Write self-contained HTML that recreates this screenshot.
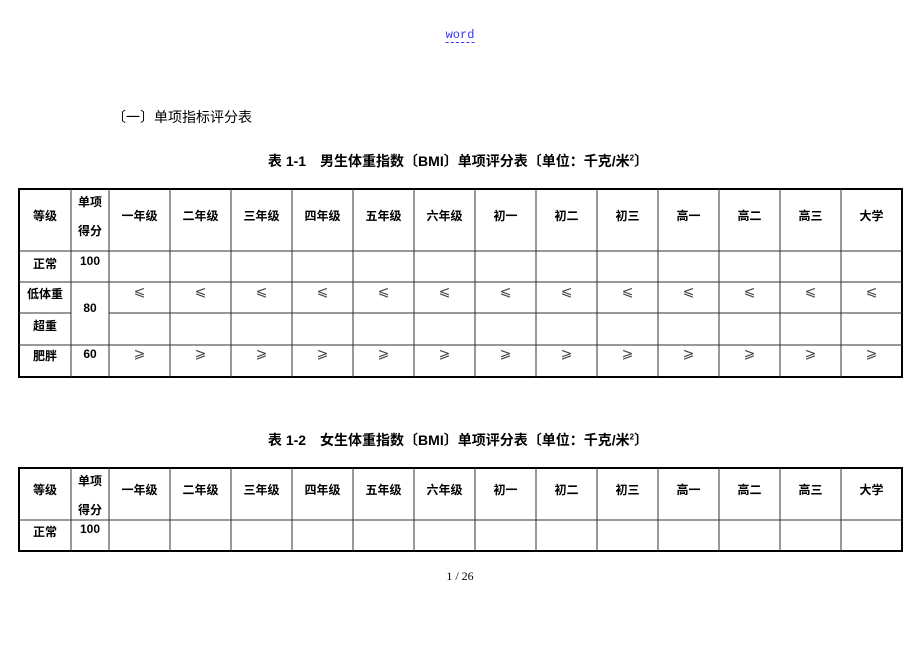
<!DOCTYPE html>
<html><head><meta charset="utf-8"><style>
body{margin:0;width:920px;height:651px;background:#fff;position:relative;overflow:hidden;font-family:"Liberation Sans","Noto Sans CJK SC",sans-serif;color:#000}
.t{position:absolute;white-space:nowrap;font-size:12px;transform:translateX(-50%)}
.b{font-weight:bold}
</style></head><body>
<div class="t" style="left:460px;top:29px;font-family:'Liberation Mono',monospace;font-size:12px;color:#33f;border-bottom:1px dashed #33f;line-height:13px">word</div>
<div style="position:absolute;left:112px;top:107px;font-size:14px">〔一〕单项指标评分表</div>
<div class="t b" style="left:458px;top:151px;font-size:14px">表 1-1　男生体重指数〔BMI〕单项评分表〔单位：千克/米<sup style="font-size:8px">2</sup>〕</div>
<div class="t b" style="left:458px;top:430px;font-size:14px">表 1-2　女生体重指数〔BMI〕单项评分表〔单位：千克/米<sup style="font-size:8px">2</sup>〕</div>
<div class="t" style="left:460px;top:569px;font-family:'Liberation Serif',serif;font-size:12px">1 / 26</div>
<svg width="920" height="651" style="position:absolute;left:0;top:0" id="s"></svg>
<div id="txt"></div>
<script>
var xs=[19,71,109,170,231,292,353,414,475,536,597,658,719,780,841,902];
var s='',t='';
function tbl(y0,rows){
 var ys=[y0].concat(rows);var bot=ys[ys.length-1];
 s+='<rect x="19" y="'+y0+'" width="883" height="'+(bot-y0)+'" fill="none" stroke="#000" stroke-width="2"/>';
 for(var i=1;i<xs.length-1;i++)s+='<line x1="'+xs[i]+'" y1="'+y0+'" x2="'+xs[i]+'" y2="'+bot+'" stroke="#333" stroke-width="1"/>';
 for(var j=1;j<ys.length-1;j++){s+='<line x1="19" y1="'+ys[j]+'" x2="'+(ys[j]==313?71:19)+'" y2="'+ys[j]+'" stroke="#333"/>';s+='<line x1="'+(ys[j]==313?109:19)+'" y1="'+ys[j]+'" x2="902" y2="'+ys[j]+'" stroke="#333"/>';}
}
function tx(x,y,str,bold){t+='<div class="t'+(bold?' b':'')+'" style="left:'+x+'px;top:'+(y-7)+'px">'+str+'</div>';}
var heads=['一年级','二年级','三年级','四年级','五年级','六年级','初一','初二','初三','高一','高二','高三','大学'];
function header(y0,y1){
 tx(45,(y0+y1)/2-6,'等级',1);tx(90,y0+11,'单项',1);tx(90,y0+40,'得分',1);
 for(var i=0;i<13;i++)tx((xs[i+2]+xs[i+3])/2,(y0+y1)/2-6,heads[i],1);
}
tbl(189,[251,282,313,345,377]);
header(189,251);
tx(45,262,'正常',1);tx(90,261,'100',1);
tx(45,292,'低体重',1);tx(90,308,'80',1);tx(45,324,'超重',1);
tx(45,354,'肥胖',1);tx(90,354,'60',1);
for(var i=0;i<13;i++){var cx=(xs[i+2]+xs[i+3])/2;t+='<div class="t" style="left:'+cx+'px;top:283px;font-size:14px;color:#444">⩽</div><div class="t" style="left:'+cx+'px;top:345px;font-size:14px;color:#444">⩾</div>';}
tbl(468,[520,551]);
header(468,520);
tx(45,530,'正常',1);tx(90,529,'100',1);
document.getElementById('s').innerHTML=s;document.getElementById('txt').innerHTML=t;
</script>
</body></html>
